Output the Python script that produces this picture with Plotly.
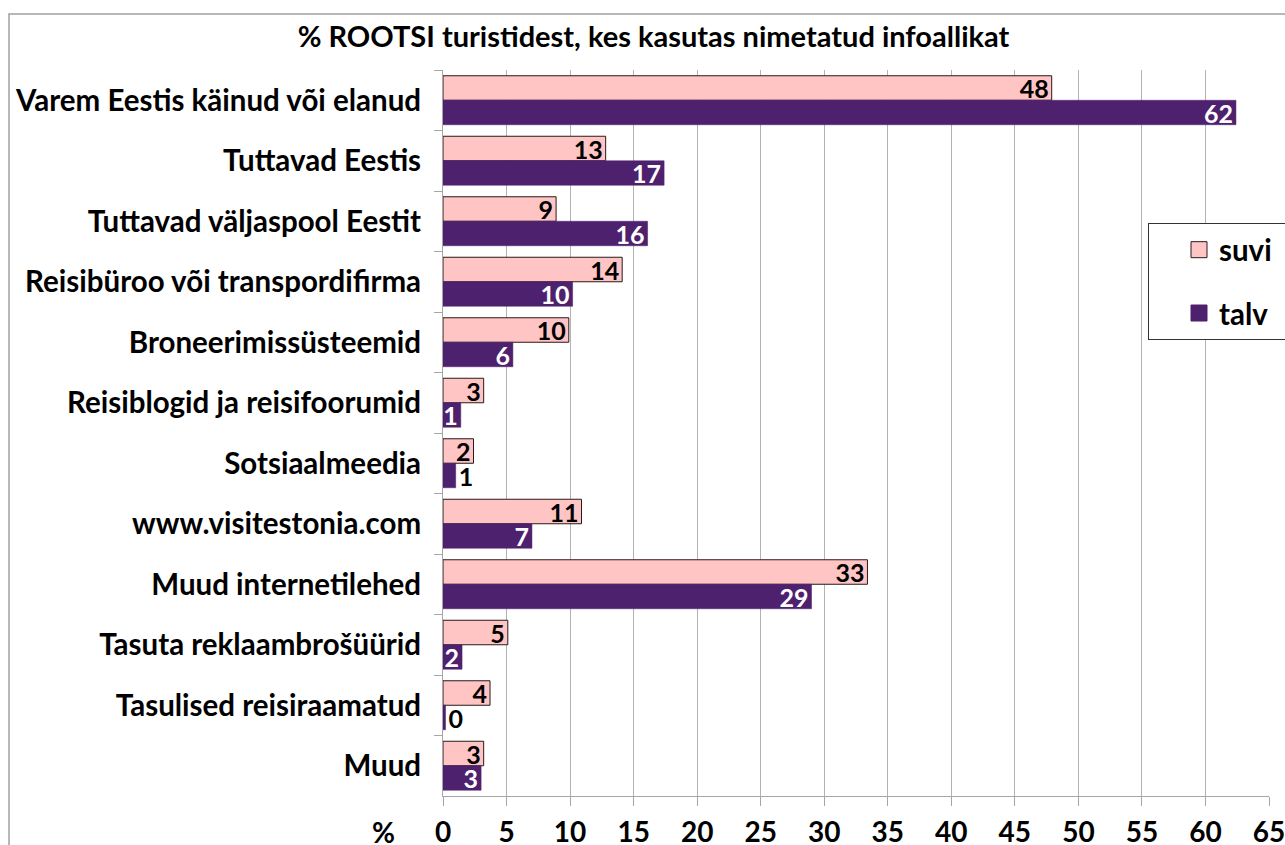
import plotly.graph_objects as go

categories = [
    "Varem Eestis käinud või elanud",
    "Tuttavad Eestis",
    "Tuttavad väljaspool Eestit",
    "Reisibüroo või transpordifirma",
    "Broneerimissüsteemid",
    "Reisiblogid ja reisifoorumid",
    "Sotsiaalmeedia",
    "www.visitestonia.com",
    "Muud internetilehed",
    "Tasuta reklaambrošüürid",
    "Tasulised reisiraamatud",
    "Muud",
]
suvi = [47.9, 12.8, 8.9, 14.1, 9.9, 3.2, 2.4, 10.9, 33.4, 5.1, 3.7, 3.2]
talv = [62.4, 17.4, 16.1, 10.2, 5.5, 1.4, 1.0, 7.0, 29.0, 1.5, 0.2, 3.0]
x_ticks = list(range(0, 70, 5))

FONT = "Lato"
SZ = 29.5
LSZ = 25

SUVI_COL = "#FFC4C4"
TALV_COL = "#4E216E"

talv_pos = ["outside" if v < 1.2 else "inside" for v in talv]
talv_col = ["black" if p == "outside" else "white" for p in talv_pos]

fig = go.Figure()
fig.add_trace(go.Bar(
    y=categories, x=suvi, orientation="h", name="suvi",
    marker=dict(color=SUVI_COL, line=dict(color="#2a1a1a", width=1)),
    texttemplate="%{x:.0f}", textposition="inside", insidetextanchor="end",
    textangle=0, constraintext="none", cliponaxis=False,
    textfont=dict(family=FONT, size=LSZ, color="black", weight="bold"),
    showlegend=False,
))
fig.add_trace(go.Bar(
    y=categories, x=talv, orientation="h", name="talv",
    marker=dict(color=TALV_COL, line=dict(color=TALV_COL, width=0.5)),
    texttemplate="%{x:.0f}", textposition=talv_pos, insidetextanchor="end",
    textangle=0, constraintext="none", cliponaxis=False,
    textfont=dict(family=FONT, size=LSZ, color=talv_col, weight="bold"),
    showlegend=False,
))
# legend entries (square swatches like the reference)
PAD = "\u00a0" * 6
fig.add_trace(go.Scatter(
    x=[None], y=[None], mode="markers", name="suvi" + PAD, legendgroup="a",
    marker=dict(symbol="square", size=17, color=SUVI_COL,
                line=dict(color="#2a1a1a", width=1)),
))
fig.add_trace(go.Scatter(
    x=[None], y=[None], mode="markers", name="talv" + PAD, legendgroup="b",
    marker=dict(symbol="square", size=17, color=TALV_COL,
                line=dict(color=TALV_COL, width=1)),
))

L, R, T, B = 443, 16, 70, 49
W, H = 1285, 845
pw, ph = W - L - R, H - T - B

def px_x(p):
    return (p - L) / pw

def px_y(p):
    return (H - B - p) / ph

fig.update_layout(
    width=W, height=H,
    margin=dict(l=L, r=R, t=T, b=B, autoexpand=False),
    paper_bgcolor="white", plot_bgcolor="white",
    barmode="group", bargap=0.19, bargroupgap=0,
    font=dict(family=FONT, size=SZ, color="black", weight="bold"),
    title=dict(
        text="% ROOTSI turistidest, kes kasutas nimetatud infoallikat",
        x=653.5 / W, xanchor="center", y=1 - 37 / H, yanchor="middle",
        font=dict(family=FONT, size=29, color="black", weight="bold"),
    ),
    xaxis=dict(
        range=[0, 65], tickvals=x_ticks, ticktext=[str(v) for v in x_ticks],
        showgrid=True, gridcolor="#b3b3b3", gridwidth=1,
        showline=True, linecolor="#a6a6a6", linewidth=1,
        ticks="outside", ticklen=9, tickcolor="#a6a6a6",
        ticklabelstandoff=2, ticklabeloverflow="allow", zeroline=False,
        tickfont=dict(family=FONT, size=28, color="black", weight="bold"),
    ),
    yaxis=dict(
        autorange="reversed", showgrid=False,
        showline=True, linecolor="#a6a6a6", linewidth=1,
        ticks="outside", ticklen=8, tickcolor="#a6a6a6", tickson="boundaries",
        ticklabelstandoff=15,
    ),
    legend=dict(
        x=px_x(1148), xanchor="left", y=px_y(223), yanchor="top",
        bgcolor="white", bordercolor="#333333", borderwidth=1,
        font=dict(family=FONT, size=SZ, color="black", weight="bold"),
        traceorder="grouped", tracegroupgap=22,
        itemwidth=30, indentation=30,
    ),
    showlegend=True,
)

fig.add_annotation(
    text="%", xref="paper", yref="paper", x=px_x(383), y=px_y(832),
    xanchor="center", yanchor="middle", showarrow=False,
    font=dict(family=FONT, size=28, color="black", weight="bold"),
)

fig.add_shape(
    type="rect", xref="paper", yref="paper",
    x0=px_x(9), x1=px_x(1400), y0=px_y(14), y1=px_y(900),
    line=dict(color="#a0a0a0", width=1.5), fillcolor="rgba(0,0,0,0)",
    layer="below",
)

fig.write_html(
    "out.html",
    config={"displayModeBar": False},
    post_script="document.body.style.margin='0';document.body.style.overflow='hidden';",
)
